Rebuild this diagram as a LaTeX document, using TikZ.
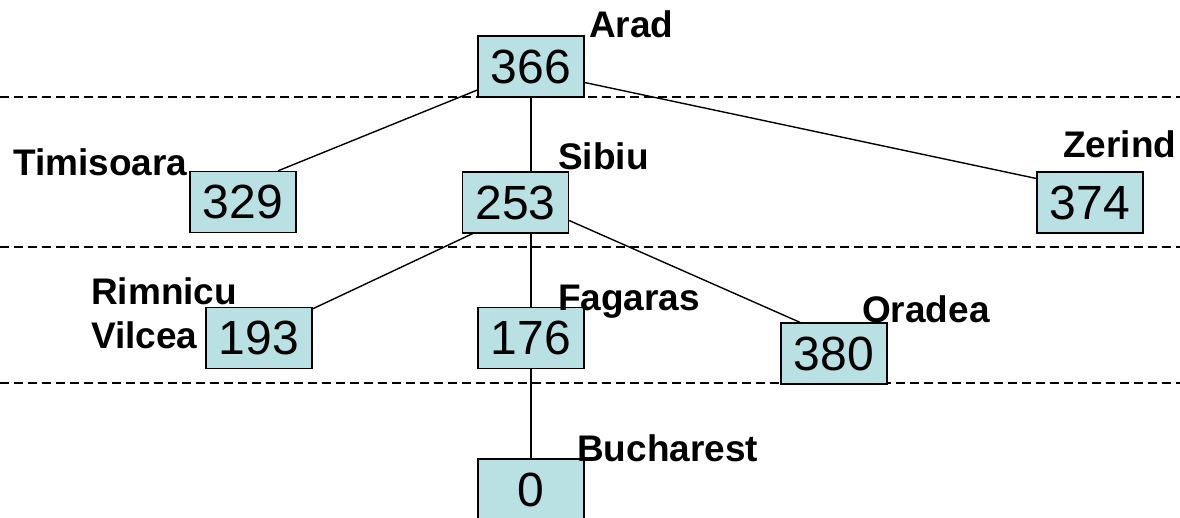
\documentclass[tikz,border=0pt]{standalone}
\usepackage{fontspec}
\setmainfont{Liberation Sans}
\usetikzlibrary{calc}
\definecolor{boxfill}{RGB}{185,224,227}
\tikzset{
  hbox/.style={draw=black, line width=1.3pt, fill=boxfill, minimum width=106pt, minimum height=61pt, inner sep=0pt, font=\fontsize{48}{48}\selectfont},
  city/.style={anchor=base west, inner sep=0pt, font=\fontsize{37}{37}\selectfont\bfseries},
  level/.style={dashed, dash pattern=on 9pt off 5pt, line width=1.2pt},
  edge/.style={line width=1.4pt}
}
\begin{document}
\begin{tikzpicture}[x=1pt,y=-1pt]
\useasboundingbox (0,0) rectangle (1180,517);
\begin{scope}
\clip (0,0) rectangle (1180,517);
\coordinate (d1l) at (0,97); \coordinate (d1r) at (1180,97);
\coordinate (d2l) at (0,247); \coordinate (d2r) at (1180,247);
\coordinate (d3l) at (0,383); \coordinate (d3r) at (1180,383);
\draw[level] (d1l) -- (d1r);
\draw[level] (d2l) -- (d2r);
\draw[level] (d3l) -- (d3r);

\node[hbox] (arad) at (531,66.5) {366};
\node[hbox] (tim) at (243,202) {329};
\node[hbox] (sib) at (515.5,202.5) {253};
\node[hbox] (zer) at (1090,202.5) {374};
\node[hbox] (rim) at (259,338) {193};
\node[hbox] (fag) at (531,338) {176};
\node[hbox] (ora) at (834,353.5) {380};
\node[hbox] (buc) at (531,489.5) {0};

\draw[edge] ($(arad.west)+(0,23.5)$) -- ($(tim.north)+(35,0)$);
\draw[edge] (arad.south) -- (arad.south |- sib.north);
\draw[edge] ($(arad.east)+(0,16)$) -- ($(zer.west)+(0,-24)$);
\draw[edge] ($(sib.south)+(-43,0)$) -- ($(rim.north east)+(0,2)$);
\draw[edge] (fag.north |- sib.south) -- (fag.north);
\draw[edge] ($(sib.east)+(0,18)$) -- ($(ora.north)+(-34,0)$);
\draw[edge] (fag.south) -- (buc.north);

\node[city] (larad) at (589,37) {Arad};
\node[city] (ltim) at (13,175) {Timisoara};
\node[city] (lsib) at (558,169) {Sibiu};
\node[city] (lzer) at (1063,157) {Zerind};
\node[city] (lrim1) at (91,304) {Rimnicu};
\node[city] (lrim2) at (91,348) {Vilcea};
\node[city] (lfag) at (558,310) {Fagaras};
\node[city] (lora) at (862,322) {Oradea};
\node[city] (lbuc) at (577,461) {Bucharest};
\end{scope}
\end{tikzpicture}
\end{document}
